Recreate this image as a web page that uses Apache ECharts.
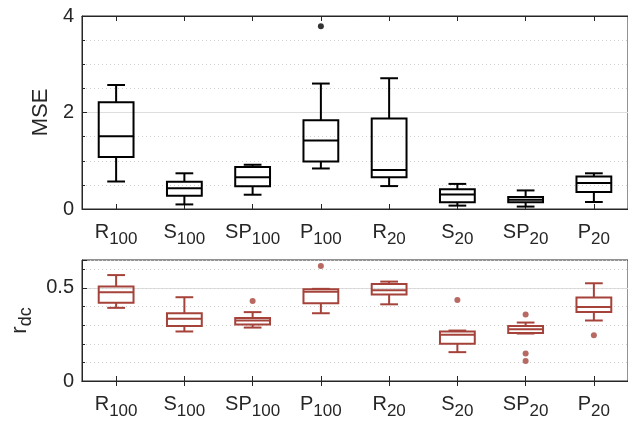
<!DOCTYPE html>
<html>
<head>
<meta charset="utf-8">
<script src="https://cdn.jsdelivr.net/npm/echarts@6/dist/echarts.min.js"></script>
<style>html,body{margin:0;padding:0;background:#fff}#c{width:628px;height:421px}</style>
</head>
<body>
<div id="c"></div>
<script>
// categories (name_subscript)
const categories = ['R_100', 'S_100', 'SP_100', 'P_100', 'R_20', 'S_20', 'SP_20', 'P_20'];

// MSE box stats: [low whisker, Q1, median, Q3, high whisker]
const mseBoxes = [
  [0.57, 1.08, 1.51, 2.21, 2.57],
  [0.095, 0.275, 0.43, 0.565, 0.74],
  [0.296, 0.47, 0.66, 0.87, 0.917],
  [0.84, 0.985, 1.42, 1.84, 2.60],
  [0.475, 0.66, 0.81, 1.875, 2.71],
  [0.07, 0.14, 0.30, 0.41, 0.52],
  [0.05, 0.14, 0.19, 0.25, 0.385],
  [0.145, 0.35, 0.54, 0.675, 0.74]
];
// MSE outliers: [category index, value]
const mseOutliers = [[3, 3.79]];

// r_dc box stats: [low whisker, Q1, median, Q3, high whisker]
const rdcBoxes = [
  [0.393, 0.421, 0.477, 0.507, 0.569],
  [0.266, 0.295, 0.335, 0.364, 0.45],
  [0.287, 0.303, 0.325, 0.339, 0.37],
  [0.364, 0.418, 0.48, 0.493, 0.495],
  [0.412, 0.464, 0.487, 0.521, 0.534],
  [0.155, 0.20, 0.248, 0.266, 0.271],
  [0.255, 0.258, 0.278, 0.295, 0.314],
  [0.325, 0.371, 0.398, 0.448, 0.525]
];
// r_dc outliers
const rdcOutliers = [[2, 0.43], [3, 0.618], [5, 0.435], [6, 0.357], [6, 0.148], [6, 0.107], [7, 0.246]];

// axis ticks
const mseTicks = { min: 0, max: 4, interval: 2 };
const rdcTicks = { min: 0, max: 0.65, interval: 0.5, minorInterval: 0.1 };

const BLACK = '#000000';
const RED = '#a5433b';
const AXIS = '#262626';
const GRIDC = '#dedede';
const FONT = '"Liberation Sans", Arial, Helvetica, sans-serif';

function catLabel(v) {
  const p = v.split('_');
  return '{m|' + p[0] + '}{s|' + p[1] + '}';
}
const richLabel = {
  m: { fontSize: 20, color: AXIS, fontFamily: FONT, lineHeight: 31 },
  s: { fontSize: 17, color: AXIS, fontFamily: FONT, lineHeight: 31, verticalAlign: 'bottom' }
};

function boxRender(color) {
  return function (params, api) {
    const x = api.value(0);
    const low = api.coord([x, api.value(1)]);
    const q1 = api.coord([x, api.value(2)]);
    const med = api.coord([x, api.value(3)]);
    const q3 = api.coord([x, api.value(4)]);
    const high = api.coord([x, api.value(5)]);
    const band = api.size([1, 0])[0];
    const bw = band * 0.51, cw = band * 0.26;
    const cx = low[0];
    const st = { stroke: color, lineWidth: 2, fill: null };
    const L = (x1, y1, x2, y2) => ({ type: 'line', shape: { x1, y1, x2, y2 }, style: st });
    return {
      type: 'group',
      children: [
        L(cx, high[1], cx, q3[1]),
        L(cx, low[1], cx, q1[1]),
        L(cx - cw / 2, high[1], cx + cw / 2, high[1]),
        L(cx - cw / 2, low[1], cx + cw / 2, low[1]),
        { type: 'rect', shape: { x: cx - bw / 2, y: q3[1], width: bw, height: q1[1] - q3[1] }, style: st },
        L(cx - bw / 2, med[1], cx + bw / 2, med[1])
      ]
    };
  };
}

function boxData(arr) {
  return arr.map((b, i) => [i].concat(b));
}

const xBase = {
  type: 'category',
  data: categories,
  boundaryGap: true,
  axisLine: { show: true, lineStyle: { color: AXIS, width: 1 } },
  axisTick: { show: true, inside: true, alignWithLabel: true, length: 5, lineStyle: { color: AXIS } },
  splitLine: { show: false }
};

const option = {
  animation: false,
  backgroundColor: '#ffffff',
  grid: [
    { left: 82, right: -7, top: 16, height: 193, show: true, borderColor: AXIS, borderWidth: 1, backgroundColor: 'transparent' },
    { left: 82, right: -7, top: 260, height: 121, show: true, borderColor: AXIS, borderWidth: 1, backgroundColor: 'transparent' }
  ],
  xAxis: [
    Object.assign({}, xBase, { gridIndex: 0, position: 'bottom',
      axisLabel: { formatter: catLabel, rich: richLabel, margin: 8, interval: 0 } }),
    Object.assign({}, xBase, { gridIndex: 0, position: 'top', axisLabel: { show: false } }),
    Object.assign({}, xBase, { gridIndex: 1, position: 'bottom',
      axisLabel: { formatter: catLabel, rich: richLabel, margin: 8, interval: 0 } }),
    Object.assign({}, xBase, { gridIndex: 1, position: 'top', axisLabel: { show: false } })
  ],
  yAxis: [
    {
      type: 'value', gridIndex: 0, min: mseTicks.min, max: mseTicks.max, interval: mseTicks.interval,
      name: 'MSE', nameLocation: 'middle', nameGap: 27, nameRotate: 90,
      nameTextStyle: { fontSize: 22, color: AXIS, fontFamily: FONT },
      axisLine: { show: true, lineStyle: { color: AXIS } },
      axisTick: { show: true, inside: true, length: 5, lineStyle: { color: AXIS } },
      minorTick: { show: true, splitNumber: 4, length: 3, lineStyle: { color: AXIS } },
      axisLabel: { fontSize: 20, color: AXIS, fontFamily: FONT, margin: 8 },
      splitLine: { show: true, lineStyle: { color: GRIDC, width: 1 } },
      minorSplitLine: { show: true, lineStyle: { color: '#cfcfcf', type: [1, 3], width: 1 } }
    },
    {
      type: 'value', gridIndex: 1, min: rdcTicks.min, max: rdcTicks.max, interval: rdcTicks.interval,
      name: '{m|r}{s|dc}', nameLocation: 'middle', nameGap: 46, nameRotate: 90,
      nameTextStyle: { color: AXIS, fontFamily: FONT, rich: {
        m: { fontSize: 22, color: AXIS, fontFamily: FONT, lineHeight: 31 },
        s: { fontSize: 18, color: AXIS, fontFamily: FONT, lineHeight: 31, verticalAlign: 'bottom' } } },
      axisLine: { show: true, lineStyle: { color: AXIS } },
      axisTick: { show: true, inside: true, length: 5, lineStyle: { color: AXIS } },
      axisLabel: { fontSize: 20, color: AXIS, fontFamily: FONT, margin: 8,
        formatter: v => (Math.abs(v / rdcTicks.interval - Math.round(v / rdcTicks.interval)) < 1e-6 ? String(v) : '') },
      splitLine: { show: true, lineStyle: { color: [GRIDC, GRIDC, 'transparent'], width: 1 } }
    },
    {
      type: 'value', gridIndex: 1, min: rdcTicks.min, max: rdcTicks.max, interval: rdcTicks.minorInterval,
      position: 'left', offset: 0,
      axisLine: { show: false },
      axisTick: { show: true, inside: true, length: 3, lineStyle: { color: AXIS } },
      axisLabel: { show: false },
      splitLine: { show: true, lineStyle: { color: '#cfcfcf', type: [1, 3], width: 1 } }
    }
  ],
  series: [
    { type: 'custom', xAxisIndex: 0, yAxisIndex: 0, renderItem: boxRender(BLACK), data: boxData(mseBoxes), z: 5,
      encode: { x: 0, y: [1, 2, 3, 4, 5] } },
    { type: 'scatter', xAxisIndex: 0, yAxisIndex: 0, data: mseOutliers, symbol: 'circle', symbolSize: 6,
      itemStyle: { color: BLACK }, z: 5 },
    { type: 'custom', xAxisIndex: 2, yAxisIndex: 1, renderItem: boxRender(RED), data: boxData(rdcBoxes), z: 5,
      encode: { x: 0, y: [1, 2, 3, 4, 5] } },
    { type: 'scatter', xAxisIndex: 2, yAxisIndex: 1, data: rdcOutliers, symbol: 'circle', symbolSize: 6,
      itemStyle: { color: RED }, z: 5 }
  ]
};

const chart = echarts.init(document.getElementById('c'), null, { renderer: 'canvas' });
chart.setOption(option);
</script>
</body>
</html>
